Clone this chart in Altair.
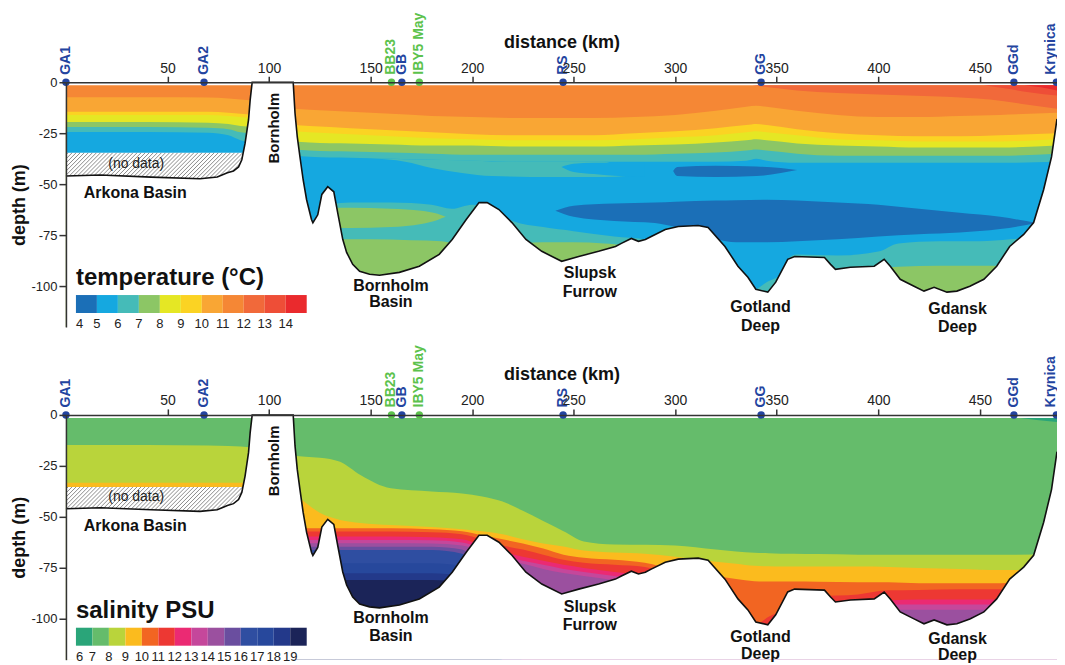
import altair as alt
import pandas as pd

FONT = "Liberation Sans"
FLOOR = -120.0
SURFACE = -1.5
KM_MAX = 488.0

# ---------------- stations ----------------
STATION_NAMES = ["GA1", "GA2", "BB23", "GB", "IBY5 May", "RS", "GG", "GGd", "Krynica"]
STATION_KM = [0, 68, 160.3, 165.4, 174, 244.8, 342.3, 466.8, 487.7]
STATION_EXTRA = [False, False, True, False, True, False, False, False, False]

TICK_KM = [50, 100, 150, 200, 250, 300, 350, 400, 450]
DEPTH_TICKS = [0, -25, -50, -75, -100]

# ---------------- seabed profile ----------------
BED_ARK_KM = [0, 17, 42, 66, 74.5, 79.5, 82.5, 85, 86.6, 88.2, 89.9, 90.7, 91.7]
BED_ARK_DEPTH = [-46, -45.5, -46.5, -47.3, -46.5, -44.4, -43.5, -41.5, -38, -30, -18.5, -8.8, 0]
BED_E_KM = [111.9, 112.8, 113.9, 115.2, 116.8, 118.5, 120.9, 121.6, 124, 126,
            128.9, 131.9, 133.8, 136.3, 138.2, 141.2, 144.6, 149.5, 154.4, 164.2,
            174, 183.8, 190.2, 197.1, 203.4, 207.4, 213.2, 219.6, 226.5, 234.3,
            244.1, 252.5, 262.3, 270.6, 273.5, 278.4, 281.9, 285.3, 288.2, 295.1,
            301.5, 311.3, 316.2, 324.5, 330.9, 335.8, 339.7, 345.6, 349.5, 355.4,
            358.8, 373.5, 376.5, 378.9, 386.3, 398, 402.9, 405.9, 410.8, 417.6,
            422.5, 427.5, 433.8, 438.7, 445.1, 452, 458.3, 464.7, 471.6, 476.5,
            481.4, 485.3, 488]
BED_E_DEPTH = [0, -15.2, -26.7, -36.4, -47.8, -57.6, -67.3, -68.9, -65, -55,
               -51.2, -53.7, -63.9, -77, -83.4, -89.3, -92.7, -94.1, -94.6, -93.2,
               -90.2, -84.4, -77.1, -67.3, -59, -59, -62.4, -68.8, -77.1, -82.9,
               -87.8, -85.4, -82.9, -80.5, -79, -76.6, -78, -77.1, -75.6, -72.2,
               -70.7, -70.2, -71.2, -80.5, -90.2, -95.6, -101.5, -102.9, -98, -86.8,
               -85.4, -85.9, -89.3, -91.7, -90.7, -90.2, -86.8, -90.2, -96.6, -100,
               -102.4, -100.5, -102.9, -102.4, -100, -96.6, -90.2, -80.5, -74.6, -68.8,
               -52.7, -36.6, -18]

# ---------------- Arkona Basin (west of Bornholm) ----------------
ARK_KM = [0, 40, 70, 80, 86, 92]
T_ARK_11 = [-7.3, -7.3, -7.5, -8, -8.5, -9]
T_ARK_10 = [-14.5, -14.5, -14.5, -15, -15.5, -16]
T_ARK_9 = [-16, -16, -16, -16.5, -17, -17.5]
T_ARK_8 = [-19.5, -19.5, -19.8, -20.5, -21.5, -22]
T_ARK_7 = [-22, -22, -22.3, -23, -24.5, -25]
T_ARK_6 = [-24.4, -24.4, -24.8, -26, -28.5, -30]
T_NODATA_TOP = -34.6
S_ARK_8 = [-14.7, -14.7, -15, -15.2, -15.5, -16]
S_ARK_9 = [-33.3, -33.3, -33.3, -33.3, -33.3, -33.3]
S_NODATA_TOP = -35.3
NODATA_KM = [0, 95]

# ---------------- temperature, east of Bornholm ----------------
T_KM = [112, 120, 140, 160, 180, 200, 220, 240, 260, 280, 300, 320, 335, 340, 345, 360, 380, 400, 420, 440, 460, 488]
T_ISO_11 = [-13, -13.5, -14.5, -15.5, -16.5, -17, -17.5, -17.5, -17.5, -17, -16, -14, -12, -11.5, -12, -14, -16, -17, -17, -16.5, -16, -15]
T_ISO_10 = [-21, -21.5, -22.5, -23.5, -24.5, -25.5, -26, -26, -26, -25, -24, -22.5, -21, -20.5, -21, -23, -25, -26, -26.5, -26.5, -26, -25]
T_ISO_9 = [-24, -24.5, -25.5, -26.5, -27.5, -28, -28.5, -28.5, -28.5, -28, -27, -26, -24.5, -24, -24.5, -26, -28, -28.5, -29, -29, -29, -28]
T_ISO_8 = [-29, -29.5, -30, -30.5, -31, -31, -31.5, -31.5, -31.5, -31, -30.5, -29.5, -28.5, -28, -28.5, -30, -31, -31.5, -32, -32, -32, -31]
T_ISO_7 = [-33, -33.5, -34, -34.5, -35, -35.5, -35.5, -35.5, -35.5, -35.5, -35, -34.5, -33.5, -33, -33.5, -35, -36, -36, -36, -36, -36, -35]
T_ISO_6 = [-36, -36.5, -37, -37.5, -38, -38.5, -39, -39, -39, -39, -39, -39, -38.5, -37.5, -38.5, -39.5, -39.5, -39.5, -39.5, -39.5, -39.5, -39]

TEAL_LENS_KM = [150, 167, 180, 195, 210, 240, 265, 276]
TEAL_LENS_TOP = [-37.2, -37.8, -38, -38.3, -38.8, -39, -39, -45.5]
TEAL_LENS_BOT = [-37.2, -39, -42, -44.5, -46, -46.5, -46.5, -46]
BLUE_TONGUE_KM = [244, 250, 260, 270, 285]
BLUE_TONGUE_TOP = [-41.5, -40, -39.5, -39.3, -39.2]
BLUE_TONGUE_BOT = [-41.5, -44, -45, -45.8, -46.5]
COLD_LENS_KM = [299, 301, 320, 340, 352, 360]
COLD_LENS_TOP = [-43.5, -41.5, -41, -41.3, -42, -43]
COLD_LENS_BOT = [-43.5, -46, -46.5, -46, -44.5, -43]
COLD_LAYER_KM = [241, 250, 270, 290, 300, 320, 330, 345, 360, 380, 400, 420, 440, 460, 478]
COLD_LAYER_TOP = [-63, -60.5, -59.5, -59, -58.6, -58, -57.8, -57.6, -58, -59, -60, -62, -64, -66, -69]
COLD_LAYER_BOT = [-63, -66, -68, -69, -71, -77, -78.5, -78.5, -78, -77, -75.6, -74.5, -73.7, -72, -69]
DEEP_6_KM = [112, 125, 130, 140, 160, 180, 190, 200, 210, 220, 235, 250, 270, 285, 300, 320, 330, 339, 345, 352, 356, 360, 380, 400, 410, 430, 450, 465, 488]
DEEP_6 = [-80, -80, -60, -59, -59, -60, -62, -60, -62, -68, -71, -73, -75.6, -77, -85, -95, -100, -101.5, -98, -94, -86, -84.5, -85, -83, -79, -78, -78, -77, -75]
DEEP_7_KM = [112, 125, 130, 150, 170, 185, 195, 210, 225, 235, 250, 265, 275, 285, 300, 400, 405, 410, 430, 450, 460, 470, 488]
DEEP_7 = [-120, -120, -77, -77, -77.5, -78, -80, -82, -79, -78.5, -78.5, -79, -80, -85, -120, -120, -91, -90.5, -90, -90, -90, -92, -100]
WARM_LENS_KM = [130, 140, 160, 175, 183, 187]
WARM_LENS_TOP = [-61.5, -61.5, -62, -63, -64.5, -66]
WARM_LENS_BOT = [-71.5, -71.5, -71, -69.5, -67.5, -66]
SURF_12_KM = [338, 360, 400, 430, 455, 470, 488]
SURF_12_BOT = [-1.5, -4, -6, -7, -8.5, -10.5, -13]
SURF_13_KM = [452, 462, 475, 488]
SURF_13_BOT = [-1.5, -3, -5, -6.5]
SURF_14_KM = [472, 480, 488]
SURF_14_BOT = [-1.5, -2.5, -4]

# ---------------- salinity, east of Bornholm ----------------
S_KM = [112, 118, 125, 135, 145, 160, 180, 195, 205, 215, 225, 235, 245, 255, 270,
        285, 300, 320, 330, 339, 346, 352, 358, 370, 390, 405, 420, 440, 460, 488]
S_ISO_8 = [-20, -20.5, -21, -23, -29.5, -36, -37.5, -38.5, -40, -42.5, -47, -52, -57, -62, -63.5,
           -63.7, -64, -66, -67, -67.6, -67.8, -68, -68, -68.2, -68.5, -68.6, -68.6, -68.6, -68.6, -68]
S_ISO_9 = [-38, -43, -48, -51.5, -53, -54, -55, -56, -57, -58.5, -61, -63, -64.5, -66.5, -67.5,
           -68, -69.5, -72, -73, -74, -74.2, -74.3, -74.3, -74.3, -74.3, -74.5, -75, -75.5, -76, -76]
S_ISO_10 = [-55.5, -55.5, -55.5, -55.5, -55.5, -55.5, -56, -57, -59, -61, -63, -65.5, -68.5, -70, -71,
            -72.5, -76, -79, -80.5, -81.5, -81.7, -81.7, -81.7, -81.8, -82, -82, -82.5, -82.5, -82.5, -82]
S_ISO_11 = [-57.2, -57.2, -57.2, -57.2, -57.2, -57.2, -57.5, -58.5, -61, -64, -66, -68.5, -71, -72.5, -73.5,
            -74.5, -80, -95, -100, -103, -99, -96, -92, -89, -88, -86, -85.8, -85.5, -85.5, -85]
S_ISO_12 = [-59.6, -59.6, -59.6, -59.6, -59.6, -59.6, -60, -61, -64, -67, -69.5, -71.5, -73.5, -75, -77,
            -79, -90, -110, -115, -115, -115, -115, -115, -110, -100, -91, -90.5, -90.5, -90.5, -90]
S_ISO_13 = [-61.3, -61.3, -61.3, -61.3, -61.3, -61.3, -61.5, -62.5, -65.5, -69, -71.5, -73.5, -75.5, -77, -79,
            -81, -95, -115, -117, -117, -117, -117, -117, -115, -105, -93, -93, -93, -93, -92]
S_ISO_14 = [-62.9, -62.9, -62.9, -62.9, -62.9, -62.9, -63, -64, -67, -70.5, -73, -75.5, -77.5, -79, -81,
            -83, -100, -118, -118, -118, -118, -118, -118, -118, -110, -95.5, -95.5, -95.5, -95.5, -95]
S_ISO_15 = [-64.6] * 7 + [-66, -80, -100] + [-120] * 20
S_ISO_16 = [-66.2] * 7 + [-68, -90, -120] + [-120] * 20
S_ISO_17 = [-72.7] * 7 + [-74, -100, -120] + [-120] * 20
S_ISO_18 = [-77.6] * 7 + [-79, -110, -120] + [-120] * 20
S_ISO_19 = [-80.9] * 7 + [-82, -115, -120] + [-120] * 20
S_FRESH_KM = [470, 478, 488]
S_FRESH_BOT = [-1.5, -2.5, -3.5]

# ---------------- colour keys ----------------
T_THRESH = [5, 6, 7, 8, 9, 10, 11, 12, 13, 14]
T_COLORS = ["#1b6fb7", "#15a8e0", "#45bbb8", "#8cc665", "#e5e724", "#fbd323",
            "#f9a634", "#f58735", "#f1693a", "#ee4e37", "#ea2a2d"]
S_THRESH = [7, 8, 9, 10, 11, 12, 13, 14, 15, 16, 17, 18, 19]
S_COLORS = ["#2aa579", "#65bc6b", "#b9d43b", "#fbbb1e", "#f26522", "#ed3833", "#eb2a73",
            "#c5479b", "#9b509f", "#6a4e9f", "#2f4ea1", "#27489c", "#23398a", "#1b2458"]

REGION_TEXT = ["Bornholm", "Basin", "Slupsk", "Furrow", "Gotland", "Deep", "Gdansk", "Deep"]
REGION_KM = [160, 160, 258, 258, 342, 342, 439, 439]
REGION_DEPTH_T = [-100, -107.8, -93.6, -103, -110.3, -119.3, -111.3, -120]
REGION_DEPTH_S = [-99.5, -108.3, -94, -103.2, -108.8, -117, -109.8, -117.6]

BLUE = "#2344a0"
GREEN = "#5cc24c"


def down(xs, tops):
    return (xs, tops, [FLOOR] * len(xs))


def flat(xs, bots):
    return (xs, [SURFACE] * len(xs), bots)


def shapes_df(shapes):
    rows = []
    for sid, (val, parts) in enumerate(shapes):
        for seg, (xs, tops, bots) in enumerate(parts):
            for x, t, b in zip(xs, tops, bots):
                rows.append({"sid": sid, "seg": seg, "val": val, "km": x, "top": t, "bot": b})
    return pd.DataFrame(rows)


T_SHAPES = [
    (11.5, [down(ARK_KM, [SURFACE] * len(ARK_KM)), down(T_KM, [SURFACE] * len(T_KM))]),
    (10.5, [down(ARK_KM, T_ARK_11), down(T_KM, T_ISO_11)]),
    (9.5, [down(ARK_KM, T_ARK_10), down(T_KM, T_ISO_10)]),
    (8.5, [down(ARK_KM, T_ARK_9), down(T_KM, T_ISO_9)]),
    (7.5, [down(ARK_KM, T_ARK_8), down(T_KM, T_ISO_8)]),
    (6.5, [down(ARK_KM, T_ARK_7), down(T_KM, T_ISO_7)]),
    (5.5, [down(ARK_KM, T_ARK_6), down(T_KM, T_ISO_6)]),
    (6.5, [(TEAL_LENS_KM, TEAL_LENS_TOP, TEAL_LENS_BOT)]),
    (5.5, [(BLUE_TONGUE_KM, BLUE_TONGUE_TOP, BLUE_TONGUE_BOT)]),
    (4.5, [(COLD_LENS_KM, COLD_LENS_TOP, COLD_LENS_BOT)]),
    (4.5, [(COLD_LAYER_KM, COLD_LAYER_TOP, COLD_LAYER_BOT)]),
    (6.5, [down(DEEP_6_KM, DEEP_6)]),
    (7.5, [down(DEEP_7_KM, DEEP_7)]),
    (7.5, [(WARM_LENS_KM, WARM_LENS_TOP, WARM_LENS_BOT)]),
    (12.5, [flat(SURF_12_KM, SURF_12_BOT)]),
    (13.5, [flat(SURF_13_KM, SURF_13_BOT)]),
    (14.5, [flat(SURF_14_KM, SURF_14_BOT)]),
]

S_SHAPES = [
    (7.5, [down(ARK_KM, [SURFACE] * len(ARK_KM)), down(S_KM, [SURFACE] * len(S_KM))]),
    (8.5, [down(ARK_KM, S_ARK_8), down(S_KM, S_ISO_8)]),
    (9.5, [down(ARK_KM, S_ARK_9), down(S_KM, S_ISO_9)]),
    (10.5, [down(S_KM, S_ISO_10)]),
    (11.5, [down(S_KM, S_ISO_11)]),
    (12.5, [down(S_KM, S_ISO_12)]),
    (13.5, [down(S_KM, S_ISO_13)]),
    (14.5, [down(S_KM, S_ISO_14)]),
    (15.5, [down(S_KM, S_ISO_15)]),
    (16.5, [down(S_KM, S_ISO_16)]),
    (17.5, [down(S_KM, S_ISO_17)]),
    (18.5, [down(S_KM, S_ISO_18)]),
    (19.5, [down(S_KM, S_ISO_19)]),
    (6.5, [flat(S_FRESH_KM, S_FRESH_BOT)]),
]

X_AXIS = alt.Axis(orient="top", values=TICK_KM, title="distance (km)", titleFontSize=18,
                  titleFontWeight="bold", titleColor="#111", titlePadding=10, titleFont=FONT,
                  labelFont=FONT, labelFontSize=14, labelColor="#222", labelPadding=1,
                  tickSize=6, tickWidth=1.5, tickColor="#333", domainColor="#333",
                  domainWidth=1.5, grid=False, zindex=1, labelFlush=False)
Y_AXIS = alt.Axis(values=DEPTH_TICKS, title="depth (m)", titleFontSize=18, titleFontWeight="bold",
                  titleColor="#111", titlePadding=2, titleFont=FONT, labelFont=FONT,
                  labelFontSize=13, labelColor="#222", labelPadding=2, tickSize=7,
                  tickWidth=1.5, tickColor="#333", domainColor="#333", domainWidth=1.5,
                  grid=False, zindex=1, labelExpr="'' + datum.value")
X_SCALE = alt.Scale(domain=[0, KM_MAX], nice=False, zero=False)
Y_SCALE = alt.Scale(domain=[FLOOR, 0], nice=False)


def xe(field="km"):
    return alt.X(f"{field}:Q", scale=X_SCALE, axis=X_AXIS)


def ye(field="top"):
    return alt.Y(f"{field}:Q", scale=Y_SCALE, axis=Y_AXIS)


def panel(shapes, thresholds, colors, title, first_label, nodata_top, region_depth):
    df = shapes_df(shapes)
    color = alt.Color(
        "val:Q",
        scale=alt.Scale(type="threshold", domain=thresholds, range=colors),
        legend=alt.Legend(
            title=title, orient="none", legendX=10, legendY=184, direction="horizontal",
            type="gradient", gradientLength=231, gradientThickness=18, gradientStrokeWidth=0,
            titleFont=FONT, titleFontSize=24, titleFontWeight="bold", titleColor="#111",
            titlePadding=5, titleLimit=400, labelFont=FONT, labelFontSize=13,
            labelColor="#222", labelOffset=5, labelAlign="center", labelOverlap=False,
            labelExpr=f"datum.value < {first_label} ? '{first_label}' : datum.label",
        ),
    )
    layers = []
    for sid in range(len(shapes)):
        layers.append(
            alt.Chart(df).transform_filter(alt.datum.sid == sid)
            .mark_area(interpolate="monotone", strokeWidth=0)
            .encode(x=xe(), y=ye(), y2="bot:Q", color=color, detail="seg:N")
        )

    nodata = pd.DataFrame({"km": NODATA_KM, "top": [nodata_top, nodata_top],
                           "bot": [FLOOR, FLOOR]})
    layers.append(alt.Chart(nodata).mark_area(color="white").encode(x=xe(), y=ye(), y2="bot:Q"))

    starts = list(range(-16, 92, 2))
    hatch = pd.DataFrame({"km": starts, "km2": [s + 15 for s in starts],
                          "top": [nodata_top - 15] * len(starts), "bot": [nodata_top] * len(starts)})
    layers.append(alt.Chart(hatch).mark_rule(color="#6e6e6e", strokeWidth=0.8, clip=True)
                  .encode(x=xe(), x2="km2:Q", y=ye(), y2="bot:Q"))

    bed = pd.DataFrame({"km": BED_ARK_KM + BED_E_KM, "top": BED_ARK_DEPTH + BED_E_DEPTH})
    bed["bot"] = FLOOR
    bed["i"] = range(len(bed))
    layers.append(alt.Chart(bed).mark_area(color="white", interpolate="linear")
                  .encode(x=xe(), y=ye(), y2="bot:Q"))
    layers.append(alt.Chart(bed).mark_line(color="#111", strokeWidth=1.6)
                  .encode(x=xe(), y=ye(), order="i:Q"))

    nd_txt = pd.DataFrame({"km": [34.6], "top": [-40], "label": ["(no data)"]})
    layers.append(alt.Chart(nd_txt).mark_text(font=FONT, fontSize=14, color="#222")
                  .encode(x=xe(), y=ye(), text="label:N"))

    ark = pd.DataFrame({"km": [8.8], "top": [-54.5], "label": ["Arkona Basin"]})
    layers.append(alt.Chart(ark).mark_text(font=FONT, fontSize=16, fontWeight="bold",
                                           color="#111", align="left")
                  .encode(x=xe(), y=ye(), text="label:N"))

    bh = pd.DataFrame({"km": [102.5], "top": [-22.5], "label": ["Bornholm"]})
    layers.append(alt.Chart(bh).mark_text(font=FONT, fontSize=15, fontWeight="bold",
                                          color="#111", angle=270)
                  .encode(x=xe(), y=ye(), text="label:N"))

    reg = pd.DataFrame({"km": REGION_KM, "top": region_depth, "label": REGION_TEXT})
    layers.append(alt.Chart(reg).mark_text(font=FONT, fontSize=16, fontWeight="bold", color="#111")
                  .encode(x=xe(), y=ye(), text="label:N"))

    st = pd.DataFrame({"km": STATION_KM, "top": [0] * len(STATION_KM),
                       "label": STATION_NAMES, "extra": STATION_EXTRA})
    st["edge"] = st["km"] > KM_MAX - 2
    for flag, col in [(False, BLUE), (True, GREEN)]:
        sub = st[st["extra"] == flag]
        layers.append(alt.Chart(sub).mark_circle(size=55, color=col, opacity=1)
                      .encode(x=xe(), y=ye()))
        inner = sub[~sub["edge"]]
        layers.append(alt.Chart(inner).mark_text(font=FONT, fontSize=14, fontWeight="bold", color=col,
                                                 angle=270, align="left", baseline="middle", dx=7.5)
                      .encode(x=xe(), y=ye(), text="label:N"))
        edge = sub[sub["edge"]]
        if len(edge):
            layers.append(alt.Chart(edge).mark_text(font=FONT, fontSize=14, fontWeight="bold",
                                                    color=col, angle=270, align="left",
                                                    baseline="bottom", dx=7.5, dy=2)
                          .encode(x=xe(), y=ye(), text="label:N"))

    return alt.layer(*layers).properties(width=992, height=245)


top = panel(T_SHAPES, T_THRESH, T_COLORS, "temperature (°C)", 4, T_NODATA_TOP, REGION_DEPTH_T)
bottom = panel(S_SHAPES, S_THRESH, S_COLORS, "salinity PSU", 6, S_NODATA_TOP, REGION_DEPTH_S)

chart = (
    alt.vconcat(top, bottom, spacing=10)
    .resolve_scale(color="independent")
    .configure_view(strokeWidth=0)
    .properties(padding={"left": 2, "top": 4, "right": -4, "bottom": 0}, background="white")
)

chart.save("out.html", embed_options={"renderer": "svg", "actions": False})
